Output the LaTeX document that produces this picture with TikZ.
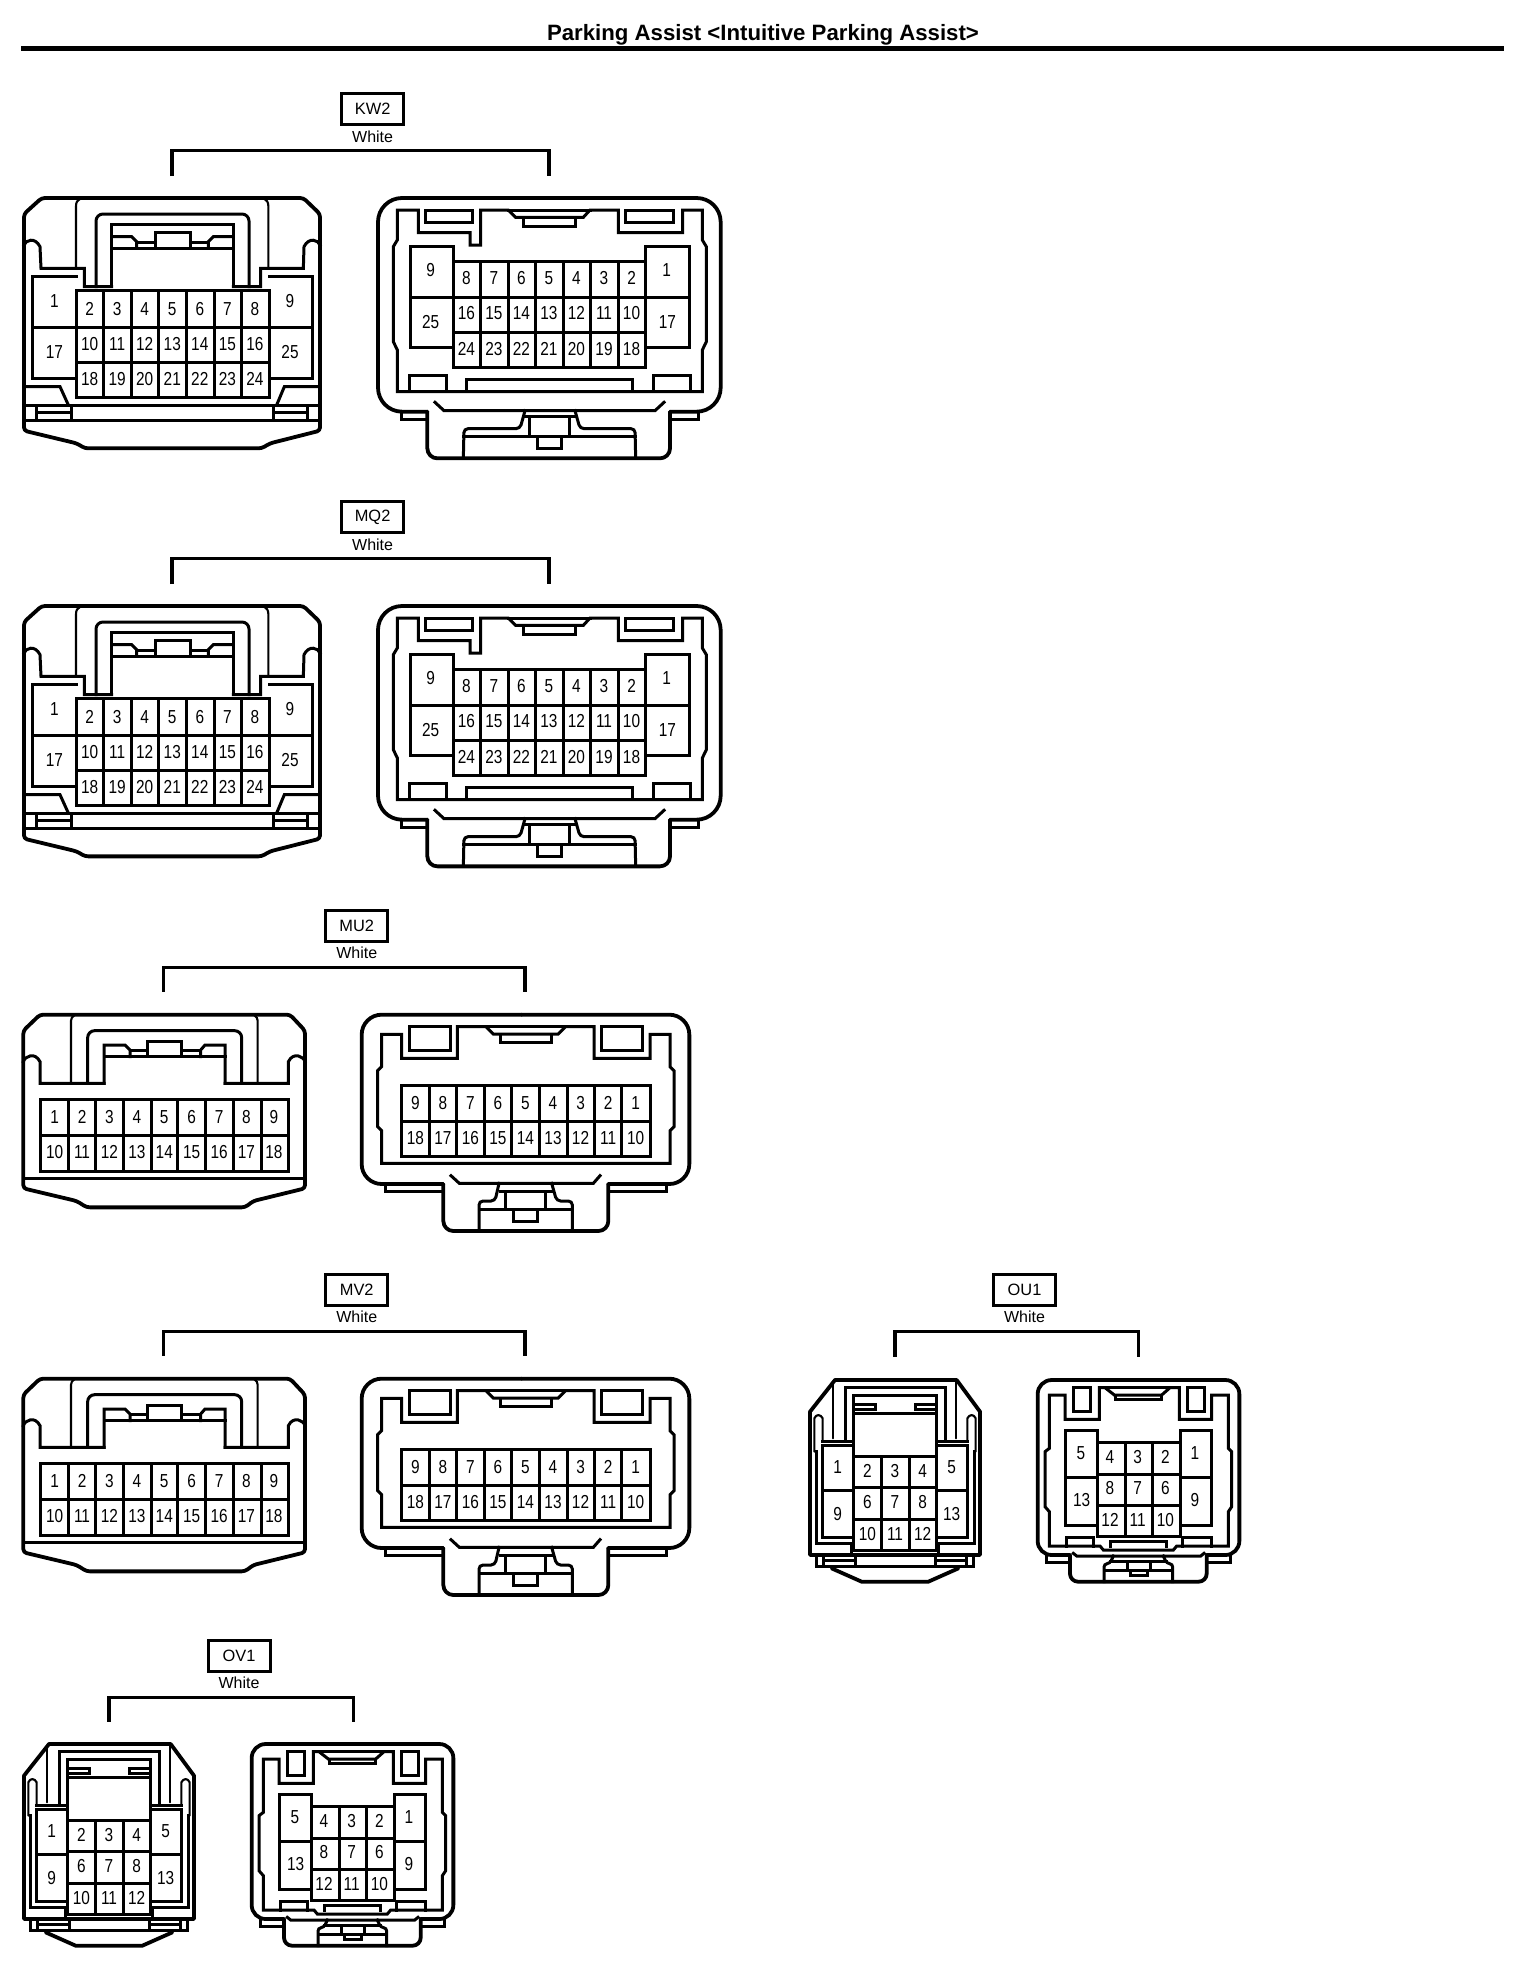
\documentclass[tikz,border=0pt]{standalone}
\usepackage{fontspec}
\setmainfont{Liberation Sans}
\newfontfamily\pinfont[FakeStretch=0.82]{Liberation Sans}
\tikzset{
  orig/.style n args={2}{shift={(#1*0.5pt,-#2*0.5pt)},x=0.166667pt,y=-0.166667pt},
  ol/.style={draw=black,line width=1.9pt,line join=round,line cap=round},
  ln/.style={draw=black,line width=1.5pt,line join=miter,line cap=rect},
  tn/.style={draw=black,line width=1.05pt,line join=round,line cap=round},
  pin/.style={inner sep=0pt,text height=6.6pt,text depth=0pt,font=\pinfont\fontsize{9.4}{9.4}\selectfont},
  tag/.style={draw=black,line width=1.5pt,inner sep=0pt,minimum width=31pt,minimum height=15.5pt,font=\fontsize{8.2}{8.2}\selectfont},
  colr/.style={inner sep=0pt,font=\fontsize{8}{8}\selectfont},
  brk/.style={draw=black,line width=1.6pt,line join=miter,line cap=butt},
}
\newcommand{\pinrow}[6]{\foreach \pinidx in {1,...,#3}{%
  \pgfmathtruncatemacro\pinnum{#1+(#2)*(\pinidx-1)}%
  \pgfmathsetmacro\pinx{#4+(#5)*(\pinidx-1)}%
  \node[pin] (p\pinnum) at (\pinx,#6) {\pinnum};}}
\newcommand{\vgrid}[3]{\foreach \gx in {#1}{\draw[ln] (\gx,#2) -- (\gx,#3);}}
\newcommand{\hgrid}[3]{\foreach \gy in {#1}{\draw[ln] (#2,\gy) -- (#3,\gy);}}
% 25-pin, male side
\newcommand{\connLA}{%
  \draw[ol,rounded corners=1.6pt] (80,24)--(865,24)--(915,72)--(915,722)--(765,760)--(740,775)--(210,775)--(185,760)--(27,722)--(27,72)--cycle;
  \draw[tn] (183,235)--(183,48) .. controls (183,36) and (188,30) .. (196,26);
  \draw[tn] (760,235)--(760,48) .. controls (760,36) and (755,30) .. (747,26);
  \draw[ln,rounded corners=3.5pt] (243,290)--(243,72)--(702,72)--(702,290);
  \draw[ln] (290,290)--(290,103)--(655,103)--(655,290);
  \draw[ln] (290,175)--(655,175);
  \draw[ln] (290,140)--(350,140)--(365,155)--(365,175);
  \draw[ln] (655,140)--(595,140)--(580,155)--(580,175);
  \draw[ln] (420,175)--(420,128)--(525,128)--(525,175);
  \draw[ln] (365,157)--(420,157) (525,157)--(580,157);
  \draw[ln] (27,165) .. controls (32,150) and (60,140) .. (75,170) -- (78,235)--(208,235)--(208,290)--(290,290);
  \draw[ln] (915,165) .. controls (910,150) and (882,140) .. (867,170) -- (865,235)--(737,235)--(737,290)--(655,290);
  \draw[ln] (183,258)--(52,258)--(52,565)--(183,565);
  \draw[ln] (762,258)--(892,258)--(892,565)--(762,565);
  \hgrid{412}{52}{892}
  \hgrid{302,517,622}{183}{762}
  \vgrid{183,265,348,431,514,597,680,762}{302}{622}
  \draw[ln] (27,590)--(135,590)--(160,645);
  \draw[ln] (915,590)--(808,590)--(785,645);
  \hgrid{645,692}{27}{915}
  \vgrid{65,170,775,878}{645}{692}
  \draw[ln] (65,667)--(170,667) (775,667)--(878,667);
  \pinrow{2}{1}{7}{224}{82.6}{357}
  \pinrow{10}{1}{7}{224}{82.6}{463}
  \pinrow{18}{1}{7}{224}{82.6}{568}
  \node[pin] (p1) at (118,332) {1};
  \node[pin] (p17) at (118,485) {17};
  \node[pin] (p9) at (825,332) {9};
  \node[pin] (p25) at (825,485) {25};
}
% 25-pin, female side
\newcommand{\connRA}{%
  \draw[ol,rounded corners=12pt] (500,24)--(1052,24)--(1052,665)--(900,665);
  \draw[ol,rounded corners=12pt] (500,24)--(24,24)--(24,665)--(172,665);
  \draw[ol,rounded corners=5pt] (172,665)--(172,805)--(900,805)--(900,665);
  \draw[ln] (95,668)--(95,688)--(172,688) (900,688)--(985,688)--(985,668);
  \draw[ln] (82,60)--(82,150)--(70,170)--(70,455)--(82,480)--(82,605)--(997,605)--(997,480)--(1009,455)--(1009,170)--(997,150)--(997,60)--(938,60)--(938,128)--(745,128)--(745,60)--(660,60)--(640,82)--(437,82)--(415,60)--(332,60)--(332,165)--(300,165)--(300,128)--(145,128)--(145,60)--cycle;
  \draw[ln] (415,60)--(660,60);
  \draw[ln] (167,60)--(167,97)--(307,97)--(307,60)--cycle;
  \draw[ln] (767,60)--(767,97)--(910,97)--(910,60)--cycle;
  \draw[ln] (460,82)--(460,108)--(615,108)--(615,82);
  \draw[ln] (250,168)--(120,168)--(120,472)--(250,472);
  \draw[ln] (826,168)--(958,168)--(958,472)--(826,472);
  \hgrid{322}{120}{958}
  \hgrid{215,427,532}{250}{826}
  \vgrid{250,332,415,497,580,662,745,826}{215}{532}
  \vgrid{250,826}{168}{215}
  \draw[ln] (118,605)--(118,555)--(228,555)--(228,605);
  \draw[ln] (850,605)--(850,555)--(960,555)--(960,605);
  \draw[ln] (290,605)--(290,568)--(788,568)--(788,605);
  \draw[ln] (195,637)--(222,662)--(855,662)--(882,637);
  \draw[ln,rounded corners=2pt] (465,662)--(450,716)--(282,716)--(280,805);
  \draw[ln,rounded corners=2pt] (615,662)--(630,716)--(795,716)--(797,805);
  \draw[ln] (280,738)--(797,738) (460,680)--(615,680);
  \vgrid{478,598}{680}{738}
  \draw[ln] (503,738)--(503,775)--(575,775)--(575,738);
  \pinrow{8}{-1}{7}{289}{82.6}{265}
  \pinrow{16}{-1}{7}{289}{82.6}{370}
  \pinrow{24}{-1}{7}{289}{82.6}{478}
  \node[pin] (p9) at (182,240) {9};
  \node[pin] (p25) at (182,395) {25};
  \node[pin] (p1) at (890,240) {1};
  \node[pin] (p17) at (892,395) {17};
}
% 18-pin, male side
\newcommand{\connLB}{%
  \draw[ol,rounded corners=1.6pt] (75,44)--(825,44)--(870,92)--(870,565)--(715,603)--(690,622)--(215,622)--(185,603)--(25,565)--(25,92)--cycle;
  \draw[tn] (168,250)--(168,62) .. controls (168,54) and (172,50) .. (178,46);
  \draw[tn] (728,250)--(728,62) .. controls (728,54) and (724,50) .. (718,46);
  \draw[ln,rounded corners=3.5pt] (218,250)--(218,92)--(680,92)--(680,250);
  \draw[ln] (267,250)--(267,135)--(330,135)--(345,150)--(345,170);
  \draw[ln] (630,250)--(630,135)--(570,135)--(557,150)--(557,170);
  \draw[ln] (267,170)--(630,170);
  \draw[ln] (398,170)--(398,125)--(500,125)--(500,170);
  \draw[ln] (345,152)--(398,152) (500,152)--(557,152);
  \draw[ln] (25,185) .. controls (30,168) and (60,155) .. (75,185) -- (75,250)--(267,250);
  \draw[ln] (870,185) .. controls (865,168) and (835,155) .. (820,185) -- (820,250)--(630,250);
  \hgrid{298,405,513}{77}{820}
  \vgrid{77,160,242,325,408,488,570,655,738,820}{298}{513}
  \hgrid{535}{25}{870}
  \pinrow{1}{1}{9}{119}{82.2}{350}
  \pinrow{10}{1}{9}{119}{82.2}{455}
}
% 18-pin, female side
\newcommand{\connRB}{%
  \draw[ol,rounded corners=10pt] (500,44)--(1003,44)--(1003,552)--(760,552);
  \draw[ol,rounded corners=10pt] (500,44)--(20,44)--(20,552)--(265,552);
  \draw[ol,rounded corners=5pt] (265,552)--(265,693)--(760,693)--(760,552);
  \draw[ln] (90,555)--(90,575)--(265,575) (760,575)--(933,575)--(933,555);
  \draw[ln] (80,103)--(80,200)--(68,212)--(68,380)--(80,392)--(80,490)--(945,490)--(945,392)--(957,380)--(957,212)--(945,200)--(945,103)--(885,103)--(885,175)--(717,175)--(717,80)--(632,80)--(610,102)--(415,102)--(393,80)--(307,80)--(307,175)--(140,175)--(140,103)--cycle;
  \draw[ln] (393,80)--(632,80);
  \draw[ln] (163,80)--(163,150)--(285,150)--(285,80)--cycle;
  \draw[ln] (740,80)--(740,150)--(862,150)--(862,80)--cycle;
  \draw[ln] (435,102)--(435,127)--(590,127)--(590,102);
  \hgrid{257,363,470}{140}{885}
  \vgrid{140,222,305,388,470,553,637,718,800,885}{257}{470}
  \draw[ln] (288,527)--(313,550)--(715,550)--(735,527);
  \draw[ln,rounded corners=2pt] (432,550)--(420,603)--(372,603)--(372,693);
  \draw[ln,rounded corners=2pt] (590,550)--(605,603)--(652,603)--(652,693);
  \draw[ln] (372,628)--(652,628) (435,575)--(590,575);
  \vgrid{452,572}{575}{628}
  \draw[ln] (475,628)--(475,665)--(548,665)--(548,628);
  \pinrow{9}{-1}{9}{181}{82.6}{308}
  \pinrow{18}{-1}{9}{181}{82.6}{413}
}
% 13-pin, male side
\newcommand{\connLC}{%
  \draw[ol] (165,360)--(530,360)--(600,455)--(600,885)--(90,885)--(90,455)--cycle;
  \draw[ln] (110,885)--(110,918)--(580,918)--(580,885);
  \draw[ln] (130,885)--(130,918) (225,885)--(225,918) (465,885)--(465,918) (560,885)--(560,918);
  \draw[ln] (130,902)--(225,902) (465,902)--(560,902);
  \draw[ol] (155,925)--(245,965)--(445,965)--(535,925);
  \draw[tn] (160,365)--(160,535) (528,365)--(528,535);
  \draw[ln] (195,545)--(195,383)--(495,383)--(495,545);
  \draw[ln] (220,588)--(220,405)--(470,405)--(470,588);
  \draw[ln] (220,460)--(470,460);
  \draw[ln] (220,432)--(285,432)--(285,447)--(220,447);
  \draw[ln] (470,432)--(405,432)--(405,447)--(470,447);
  \draw[tn] (103,575)--(103,475) .. controls (108,462) and (122,462) .. (128,475) -- (128,545);
  \draw[tn] (587,575)--(587,475) .. controls (582,462) and (568,462) .. (562,475) -- (562,545);
  \draw[ln] (128,545)--(220,545) (470,545)--(562,545);
  \draw[ln] (108,575)--(108,850)--(215,850)--(215,885);
  \draw[ln] (582,575)--(582,850)--(475,850)--(475,885);
  \draw[ln] (220,555)--(128,555)--(128,832)--(220,832);
  \draw[ln] (470,555)--(562,555)--(562,832)--(470,832);
  \hgrid{692}{128}{220}
  \hgrid{692}{470}{562}
  \hgrid{588,682,778,872}{220}{470}
  \vgrid{220,305,388,470}{588}{872}
  \pinrow{2}{1}{3}{262}{83}{632}
  \pinrow{6}{1}{3}{262}{83}{725}
  \pinrow{10}{1}{3}{262}{83}{822}
  \node[pin] (p1) at (173,620) {1};
  \node[pin] (p9) at (173,762) {9};
  \node[pin] (p5) at (515,620) {5};
  \node[pin] (p13) at (515,762) {13};
}
% 13-pin, female side
\newcommand{\connRC}{%
  \draw[ol,rounded corners=7pt] (1075,360)--(1378,360)--(1378,885)--(1280,885);
  \draw[ol,rounded corners=7pt] (1075,360)--(773,360)--(773,885)--(870,885);
  \draw[ol,rounded corners=4pt] (870,885)--(870,965)--(1280,965)--(1280,885);
  \draw[ln] (800,888)--(800,908)--(870,908) (1280,908)--(1350,908)--(1350,888);
  \draw[ln] (808,405)--(808,565)--(795,575)--(795,740)--(808,755)--(808,858)--(960,858)--(970,870)--(1180,870)--(1190,858)--(1345,858)--(1345,755)--(1355,740)--(1355,575)--(1345,565)--(1345,405)--(1295,405)--(1295,478)--(1198,478)--(1198,383)--(1170,383)--(1145,405)--(1003,405)--(975,383)--(958,383)--(958,478)--(855,478)--(855,405)--cycle;
  \draw[ln] (975,383)--(1170,383);
  \draw[ln] (880,383)--(880,455)--(932,455)--(932,383)--cycle;
  \draw[ln] (1222,383)--(1222,455)--(1272,455)--(1272,383)--cycle;
  \draw[ln] (1005,405)--(1005,418)--(1145,418)--(1145,405);
  \draw[ln] (952,512)--(857,512)--(857,795)--(952,795);
  \draw[ln] (1200,512)--(1295,512)--(1295,795)--(1200,795);
  \hgrid{652}{857}{952}
  \hgrid{652}{1200}{1295}
  \hgrid{548,642,735,828}{952}{1200}
  \vgrid{952,1035,1118,1200}{548}{828}
  \vgrid{952,1200}{512}{548}
  \draw[ln] (858,858)--(858,832)--(940,832)--(940,858);
  \draw[ln] (1208,858)--(1208,832)--(1295,832)--(1295,858);
  \draw[ln] (990,858)--(990,843)--(1160,843)--(1160,858);
  \draw[ln] (880,880)--(890,888)--(1262,888)--(1272,880);
  \draw[ln,rounded corners=1.5pt] (1000,888)--(990,910)--(972,912)--(972,965);
  \draw[ln,rounded corners=1.5pt] (1150,888)--(1160,910)--(1178,912)--(1178,965);
  \draw[ln] (972,932)--(1178,932) (990,905)--(1160,905);
  \vgrid{1042,1112}{905}{932}
  \draw[ln] (1050,932)--(1050,945)--(1103,945)--(1103,932);
  \pinrow{4}{-1}{3}{990}{83}{592}
  \pinrow{8}{-1}{3}{990}{83}{685}
  \pinrow{12}{-1}{3}{990}{83}{780}
  \node[pin] (p5) at (903,578) {5};
  \node[pin] (p13) at (905,720) {13};
  \node[pin] (p1) at (1245,578) {1};
  \node[pin] (p9) at (1245,720) {9};
}
% label, colour and bracket: name, centre x, box y, white y, left x, right x, top y, bottom y
\newcommand{\tagset}[8]{%
  \node[tag] (t#1) at (#2,#3) {#1};
  \node[colr] (c#1) at (#2,#4) {White};
  \coordinate (a#1) at (#5,#8);
  \coordinate (b#1) at (#6,#8);
  \draw[brk] (a#1) |- (#5,#7) -| (b#1);
}
\begin{document}
\begin{tikzpicture}[x=0.5pt,y=-0.5pt]
\useasboundingbox (0,0) rectangle (1536,1970);
\fill[white] (0,0) rectangle (1536,1970);
\node[inner sep=0pt,anchor=base,font=\bfseries\fontsize{11.1}{11.1}\selectfont] (title) at (763,40) {Parking Assist <Intuitive Parking Assist>};
\coordinate (ruleL) at (21,48.3);
\coordinate (ruleR) at (1504,48.3);
\draw[black,line width=2.4pt] (ruleL) -- (ruleR);
\tagset{KW2}{372.6}{109}{136.5}{172}{549}{150.7}{176}
\tagset{MQ2}{372.6}{517}{544.5}{172}{549}{558.7}{584}
\tagset{MU2}{356.7}{925.8}{952.7}{163.8}{525}{967.7}{991.7}
\tagset{MV2}{356.7}{1289.8}{1316.7}{163.8}{525}{1331.7}{1355.7}
\tagset{OU1}{1024.5}{1289.8}{1317}{895}{1138.3}{1331.7}{1356.7}
\tagset{OV1}{239}{1655.5}{1682.3}{109}{353.3}{1697.7}{1721.7}
\begin{scope}[orig={15}{190},name prefix=kwl-]\connLA\end{scope}
\begin{scope}[orig={370}{190},name prefix=kwr-]\connRA\end{scope}
\begin{scope}[orig={15}{598},name prefix=mql-]\connLA\end{scope}
\begin{scope}[orig={370}{598},name prefix=mqr-]\connRA\end{scope}
\begin{scope}[orig={15}{1000},name prefix=mul-]\connLB\end{scope}
\begin{scope}[orig={355}{1000},name prefix=mur-]\connRB\end{scope}
\begin{scope}[orig={15}{1364},name prefix=mvl-]\connLB\end{scope}
\begin{scope}[orig={355}{1364},name prefix=mvr-]\connRB\end{scope}
\begin{scope}[orig={780}{1260},name prefix=oul-]\connLC\end{scope}
\begin{scope}[orig={780}{1260},name prefix=our-]\connRC\end{scope}
\begin{scope}[orig={-6}{1624},name prefix=ovl-]\connLC\end{scope}
\begin{scope}[orig={-6}{1624},name prefix=ovr-]\connRC\end{scope}
\end{tikzpicture}
\end{document}
